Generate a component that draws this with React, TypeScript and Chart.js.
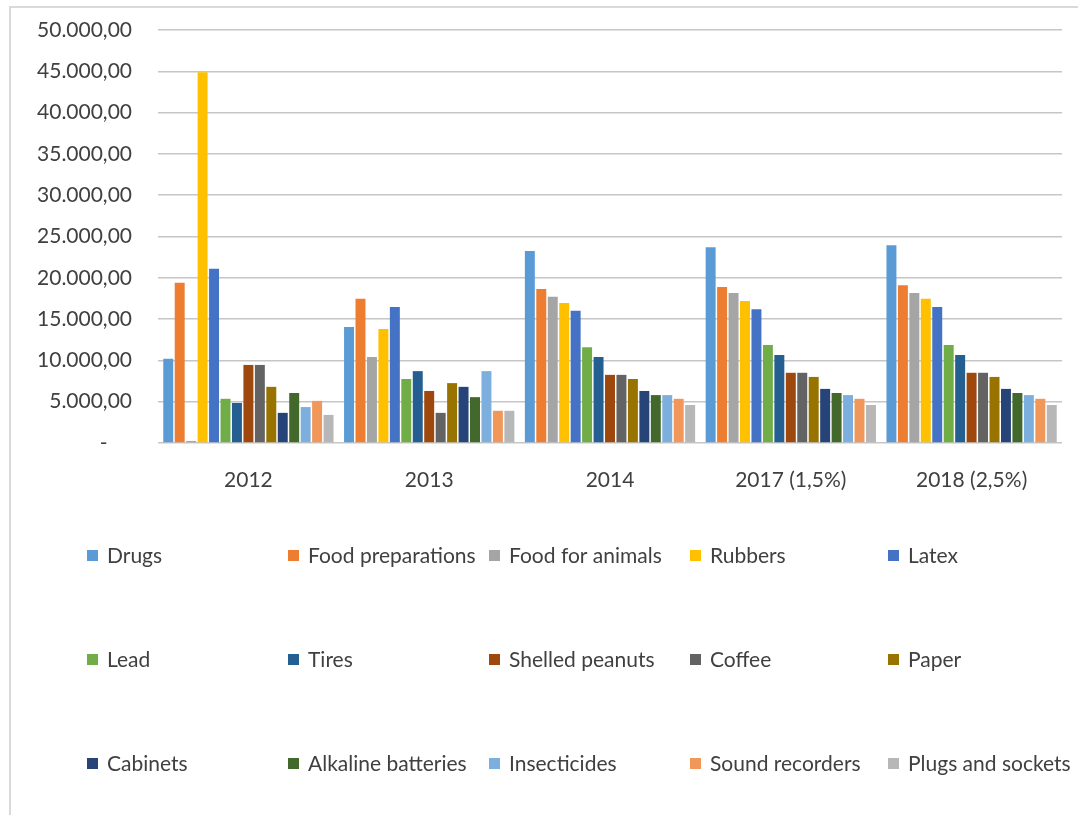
import React, { useEffect, useRef } from "react";
import { Chart, registerables } from "chart.js";

Chart.register(...registerables);

const years = ["2012", "2013", "2014", "2017 (1,5%)", "2018 (2,5%)"];

const drugs = [10200, 14050, 23250, 23700, 23950];
const foodPreparations = [19400, 17450, 18650, 18900, 19100];
const foodForAnimals = [250, 10400, 17700, 18150, 18150];
const rubbers = [44900, 13800, 16950, 17200, 17450];
const latex = [21100, 16450, 16000, 16200, 16450];
const lead = [5350, 7750, 11600, 11850, 11850];
const tires = [4850, 8700, 10400, 10650, 10650];
const shelledPeanuts = [9450, 6300, 8250, 8500, 8500];
const coffee = [9450, 3650, 8250, 8500, 8500];
const paper = [6800, 7250, 7750, 8000, 8000];
const cabinets = [3650, 6800, 6300, 6550, 6550];
const alkalineBatteries = [6050, 5550, 5800, 6050, 6050];
const insecticides = [4350, 8700, 5800, 5800, 5800];
const soundRecorders = [5100, 3900, 5350, 5350, 5350];
const plugsAndSockets = [3400, 3900, 4600, 4600, 4600];

const seriesNames = [
  "Drugs", "Food preparations", "Food for animals", "Rubbers", "Latex",
  "Lead", "Tires", "Shelled peanuts", "Coffee", "Paper",
  "Cabinets", "Alkaline batteries", "Insecticides", "Sound recorders", "Plugs and sockets",
];
const seriesValues = [
  drugs, foodPreparations, foodForAnimals, rubbers, latex,
  lead, tires, shelledPeanuts, coffee, paper,
  cabinets, alkalineBatteries, insecticides, soundRecorders, plugsAndSockets,
];
const seriesColors = [
  "#5B9BD5", "#ED7D31", "#A5A5A5", "#FFC000", "#4472C4",
  "#70AD47", "#255E91", "#9E480E", "#636363", "#997300",
  "#264478", "#43682B", "#7CAFDD", "#F1975A", "#B7B7B7",
];

const FONT = "Lato, 'Open Sans', sans-serif";
const TEXT = "#404040";
const FONT_SIZE = 21;

// 50000 -> "50.000,00", 0 -> "-"
function formatValue(v: number): string {
  if (v === 0) return "-\u2007\u2007";
  const whole = Math.floor(v).toString().replace(/\B(?=(\d{3})+(?!\d))/g, ".");
  return whole + ",00";
}

// Legend laid out as a fixed 5-column grid under the axis
const legendGrid = {
  id: "legendGrid",
  afterDraw(chart: Chart) {
    const ctx = chart.ctx;
    const cols = [87, 288, 489, 690, 888];
    const rows = [556, 660, 764];
    ctx.save();
    ctx.font = `${FONT_SIZE}px ${FONT}`;
    ctx.textBaseline = "middle";
    ctx.textAlign = "left";
    chart.data.datasets.forEach((ds: any, i: number) => {
      const x = cols[i % 5];
      const y = rows[Math.floor(i / 5)];
      ctx.fillStyle = ds.backgroundColor as string;
      ctx.fillRect(x, y - 6, 11, 11);
      ctx.fillStyle = TEXT;
      ctx.fillText(ds.label, x + 20, y);
    });
    ctx.restore();
  },
};

export default function App() {
  const canvasRef = useRef<HTMLCanvasElement | null>(null);

  useEffect(() => {
    if (!canvasRef.current) return;
    const chart = new Chart(canvasRef.current, {
      type: "bar",
      data: {
        labels: years,
        datasets: seriesNames.map((name, i) => ({
          label: name,
          data: seriesValues[i],
          backgroundColor: seriesColors[i],
          borderWidth: 0,
          categoryPercentage: 0.95,
          barPercentage: 0.87,
        })),
      },
      options: {
        animation: false,
        responsive: false,
        maintainAspectRatio: false,
        layout: { padding: { top: 30, right: 16, bottom: 312, left: 0 } },
        plugins: {
          legend: { display: false },
          tooltip: { enabled: false },
        },
        scales: {
          x: {
            grid: { display: false, drawTicks: false },
            border: { display: false },
            ticks: {
              color: TEXT,
              font: { family: FONT, size: FONT_SIZE },
              padding: 25,
              maxRotation: 0,
            },
            afterFit(scale: any) {
              scale.height = 60;
            },
          },
          y: {
            min: 0,
            max: 50000,
            grid: { color: "#c6c6c6", lineWidth: 1.5, drawTicks: false },
            border: { display: false },
            ticks: {
              stepSize: 5000,
              color: TEXT,
              font: { family: FONT, size: FONT_SIZE },
              padding: 26,
              callback: (v: any) => formatValue(Number(v)),
            },
            afterFit(scale: any) {
              scale.width = 158;
              // the plot top is fixed by the layout padding alone
              scale.paddingTop = 0;
              scale.paddingBottom = 0;
            },
          },
        },
      },
      plugins: [legendGrid],
    });
    return () => chart.destroy();
  }, []);

  return (
    <div style={{ position: "absolute", left: 0, top: 0, width: 1078, height: 815, overflow: "hidden", background: "#fff" }}>
      <div
        style={{
          position: "absolute",
          left: 9,
          top: 6,
          width: 1090,
          height: 830,
          border: "2px solid #d9d9d9",
          boxSizing: "border-box",
        }}
      />
      <canvas ref={canvasRef} width={1078} height={815} style={{ position: "absolute", left: 0, top: 0 }} />
    </div>
  );
}
